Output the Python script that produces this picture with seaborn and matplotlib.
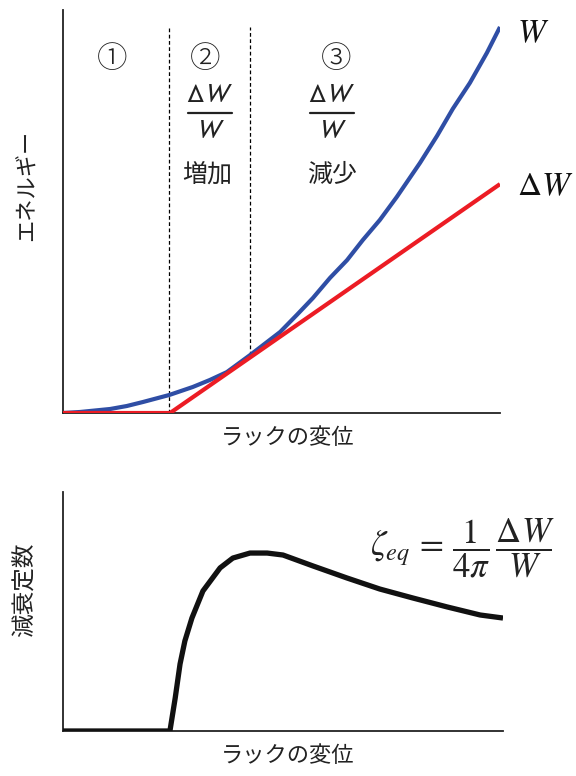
import numpy as np
import pandas as pd
import matplotlib
matplotlib.use('Agg')
import matplotlib.pyplot as plt
import seaborn as sns

# Top panel: energy vs rack displacement (both in % of full scale)
x_W = [0.0, 3.9, 10.8, 14.6, 18.3, 24.3, 29.7, 33.6, 37.5, 42.8, 49.7, 53.5,
       57.2, 61.1, 65.0, 68.6, 72.5, 76.4, 81.7, 85.6, 89.2, 93.1, 97.0, 100.0]
W = [0.0, 0.26, 1.04, 1.81, 2.85, 4.66, 6.74, 8.55, 10.6, 15.0, 21.0, 25.4,
     29.8, 35.0, 39.6, 44.8, 50.0, 56.0, 64.8, 71.8, 78.8, 85.5, 93.3, 100.0]
x_dW = [0.0, 24.5, 100.0]
dW = [0.0, 0.0, 59.3]
region_bounds = [24.3, 42.8]

# Bottom panel: equivalent damping ratio
x_z = [0.0, 24.3, 25.5, 26.6, 27.7, 29.3, 31.8, 35.7, 38.6, 42.5, 46.4, 50.0,
       56.8, 64.5, 72.0, 79.5, 87.3, 94.8, 100.0]
zeta = [0.0, 0.0, 18.4, 37.4, 50.3, 63.1, 78.2, 91.1, 96.6, 99.4, 99.4, 98.3,
        92.2, 85.5, 79.3, 74.3, 69.3, 64.8, 63.1]

sns.set_style("white")
plt.rcParams['font.family'] = ['Noto Sans CJK JP', 'DejaVu Sans']
plt.rcParams['mathtext.fontset'] = 'stixsans'

fig = plt.figure(figsize=(5.76, 7.76), dpi=100)

def fx(px):
    return px / 576

def fy(py):
    return 1 - py / 776

ax1 = fig.add_axes([fx(63), fy(413), fx(500) - fx(63), fy(10) - fy(413)])
ax2 = fig.add_axes([fx(63), fy(731), fx(503) - fx(63), fy(492) - fy(731)])

df_top = pd.DataFrame({'x': x_W, 'W': W})
df_dw = pd.DataFrame({'x': x_dW, 'dW': dW})
df_z = pd.DataFrame({'x': x_z, 'z': zeta})

sns.lineplot(data=df_top, x='x', y='W', ax=ax1, color='#2F4EA5', lw=3.0, zorder=3,
             solid_joinstyle='round', solid_capstyle='butt')
sns.lineplot(data=df_dw, x='x', y='dW', ax=ax1, color='#EC1C24', lw=3.0, zorder=4,
             solid_joinstyle='round', solid_capstyle='butt')
w_at = np.interp(region_bounds, x_W, W)
ax1.vlines(region_bounds[0], 0, 100, color='black', lw=0.9, ls=(0, (3, 2)), zorder=1)
ax1.vlines(region_bounds[1], w_at[1], 100, color='black', lw=0.9, ls=(0, (3, 2)), zorder=1)
ax1.set_xlim(0, 100)
ax1.set_ylim(0, 104.4)

sns.lineplot(data=df_z, x='x', y='z', ax=ax2, color='#111111', lw=3.8, zorder=3,
             solid_joinstyle='round', solid_capstyle='butt')
ax2.set_xlim(0, 100)
ax2.set_ylim(0, 133.5)

for ax in (ax1, ax2):
    sns.despine(ax=ax)
    ax.set_xticks([])
    ax.set_yticks([])
    for s in ('left', 'bottom'):
        ax.spines[s].set_color('#222222')
        ax.spines[s].set_linewidth(1.3)
    ax.set_xlabel('')
    ax.set_ylabel('')

tc = '#222222'
fig.text(fx(288), fy(437), 'ラックの変位', ha='center', va='center', fontsize=16, color=tc)
fig.text(fx(288), fy(755), 'ラックの変位', ha='center', va='center', fontsize=16, color=tc)
fig.text(fx(27), fy(185), 'エネルギー', ha='center', va='center', rotation=90, fontsize=16, color=tc)
fig.text(fx(25), fy(590), '減衰定数', ha='center', va='center', rotation=90, fontsize=17, color=tc)

fig.text(fx(112), fy(59), '①', ha='center', va='center', fontsize=22, color=tc, fontweight='light')
fig.text(fx(205), fy(59), '②', ha='center', va='center', fontsize=22, color=tc, fontweight='light')
fig.text(fx(336), fy(59), '③', ha='center', va='center', fontsize=22, color=tc, fontweight='light')

# stacked fractions dW / W for regions 2 and 3
for cx in (210, 332):
    fig.text(fx(cx), fy(94), r'$\Delta W$', ha='center', va='center', fontsize=19, color=tc)
    fig.add_artist(plt.Line2D([fx(cx - 22), fx(cx + 22)], [fy(113), fy(113)],
                              transform=fig.transFigure, color=tc, lw=1.6))
    fig.text(fx(cx), fy(131), r'$W$', ha='center', va='center', fontsize=19, color=tc)
fig.text(fx(207), fy(175), '増加', ha='center', va='center', fontsize=18, color=tc)
fig.text(fx(332), fy(175), '減少', ha='center', va='center', fontsize=18, color=tc)

fig.text(fx(533), fy(33), r'$W$', ha='center', va='center', fontsize=24, color='#111111', math_fontfamily='stix')
fig.text(fx(545), fy(186), r'$\Delta W$', ha='center', va='center', fontsize=24, color='#111111', math_fontfamily='stix')

fig.text(fx(462), fy(548), r'$\zeta_{eq}\,=\,\dfrac{1}{4\pi}\,\dfrac{\Delta W}{W}$', ha='center', va='center',
         fontsize=25, color=tc, math_fontfamily='stix')

fig.savefig('out.png', dpi=100)
